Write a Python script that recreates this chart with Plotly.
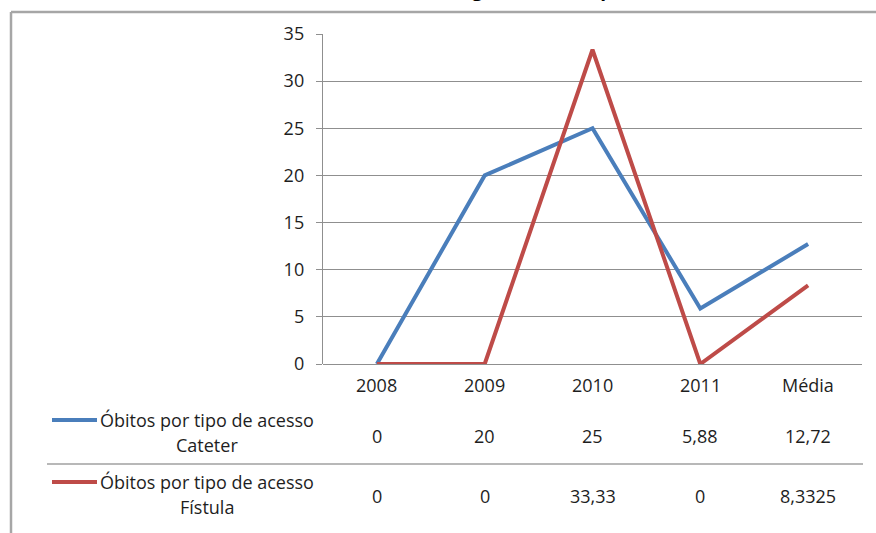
import plotly.graph_objects as go

# Categories and series
anos = ["2008", "2009", "2010", "2011", "Média"]
cateter = [0, 20, 25, 5.88, 12.72]
fistula = [0, 0, 33.33, 0, 8.3325]
serie_nomes = ["Óbitos por tipo de acesso", "Óbitos por tipo de acesso"]
serie_sufixos = ["Cateter", "Fístula"]
y_ticks = [0, 5, 10, 15, 20, 25, 30, 35]

AZUL = "#4a7ebb"
VERMELHO = "#be4b48"
CINZA = "#8f8f8f"
TEXTO = "#1e1e1e"
FONTE = "Open Sans"
TAM = 18

W, H = 876, 533
L, R, T, B = 323, 14, 34, 169
plot_w = W - L - R
plot_h = H - T - B


def px_x(px):
    return (px - L) / plot_w


def px_y(py):
    return (H - B - py) / plot_h


def fmt(v):
    return f"{v:g}".replace(".", ",")


fig = go.Figure()
for vals, cor in [(cateter, AZUL), (fistula, VERMELHO)]:
    fig.add_trace(go.Scatter(
        x=anos, y=vals, mode="lines",
        line=dict(color=cor, width=4),
        cliponaxis=False, showlegend=False, hoverinfo="skip",
    ))

fonte_txt = dict(family=FONTE, size=TAM, color=TEXTO)
annotations = []
# header row of the data table
for i, a in enumerate(anos):
    annotations.append(dict(x=i, xref="x", y=px_y(385), yref="paper", text=a,
                            xanchor="center", yanchor="middle",
                            showarrow=False, font=fonte_txt))
# value rows
for vals, yrow in [(cateter, 436), (fistula, 496)]:
    for i, v in enumerate(vals):
        annotations.append(dict(x=i, xref="x", y=px_y(yrow), yref="paper", text=fmt(v),
                                xanchor="center", yanchor="middle",
                                showarrow=False, font=fonte_txt))
# row labels
for nome, suf, y1, y2 in [(serie_nomes[0], serie_sufixos[0], 420, 445),
                          (serie_nomes[1], serie_sufixos[1], 482, 507)]:
    annotations.append(dict(x=px_x(207), xref="paper", y=px_y(y1), yref="paper", text=nome,
                            xanchor="center", yanchor="middle",
                            showarrow=False, font=fonte_txt))
    annotations.append(dict(x=px_x(207), xref="paper", y=px_y(y2), yref="paper", text=suf,
                            xanchor="center", yanchor="middle",
                            showarrow=False, font=fonte_txt))
# chart title (runs past the top edge of the page)
annotations.append(dict(x=px_x(445), xref="paper", y=px_y(4.5), yref="paper",
                        xanchor="center", yanchor="bottom",
                        text="<b>Taxa de Mortalidade, total e segundo o ano (percentual)</b>",
                        showarrow=False, font=dict(family=FONTE, size=19, color="#000000")))

shapes = [
    # legend keys in the table
    dict(type="line", xref="paper", yref="paper", x0=px_x(52), x1=px_x(97),
         y0=px_y(420), y1=px_y(420), line=dict(color=AZUL, width=4)),
    dict(type="line", xref="paper", yref="paper", x0=px_x(52), x1=px_x(97),
         y0=px_y(482), y1=px_y(482), line=dict(color=VERMELHO, width=4)),
    # row separator
    dict(type="line", xref="paper", yref="paper", x0=px_x(47), x1=px_x(863),
         y0=px_y(464), y1=px_y(464), line=dict(color="#a0a0a0", width=1.5)),
    # outer chart frame
    dict(type="line", xref="paper", yref="paper", x0=px_x(11), x1=px_x(890),
         y0=px_y(12), y1=px_y(12), line=dict(color="#a6a6a6", width=2.5)),
    dict(type="line", xref="paper", yref="paper", x0=px_x(11), x1=px_x(11),
         y0=px_y(12), y1=px_y(545), line=dict(color="#a6a6a6", width=2.5)),
]

fig.update_layout(
    width=W, height=H,
    margin=dict(l=L, r=R, t=T, b=B, pad=0),
    paper_bgcolor="white", plot_bgcolor="white",
    annotations=annotations, shapes=shapes,
    xaxis=dict(type="category", range=[-0.5, len(anos) - 0.5], showticklabels=False,
               showgrid=False, zeroline=False, showline=False, ticks=""),
    yaxis=dict(range=[0, 35], tickvals=y_ticks, showgrid=True, gridcolor=CINZA, gridwidth=1.4,
               zeroline=True, zerolinecolor=CINZA, zerolinewidth=1.4,
               showline=True, linecolor=CINZA, linewidth=1.4,
               ticks="outside", ticklen=6, tickcolor=CINZA, tickwidth=1.4,
               ticklabelstandoff=8,
               tickfont=fonte_txt),
)

fig.write_html("out.html")
